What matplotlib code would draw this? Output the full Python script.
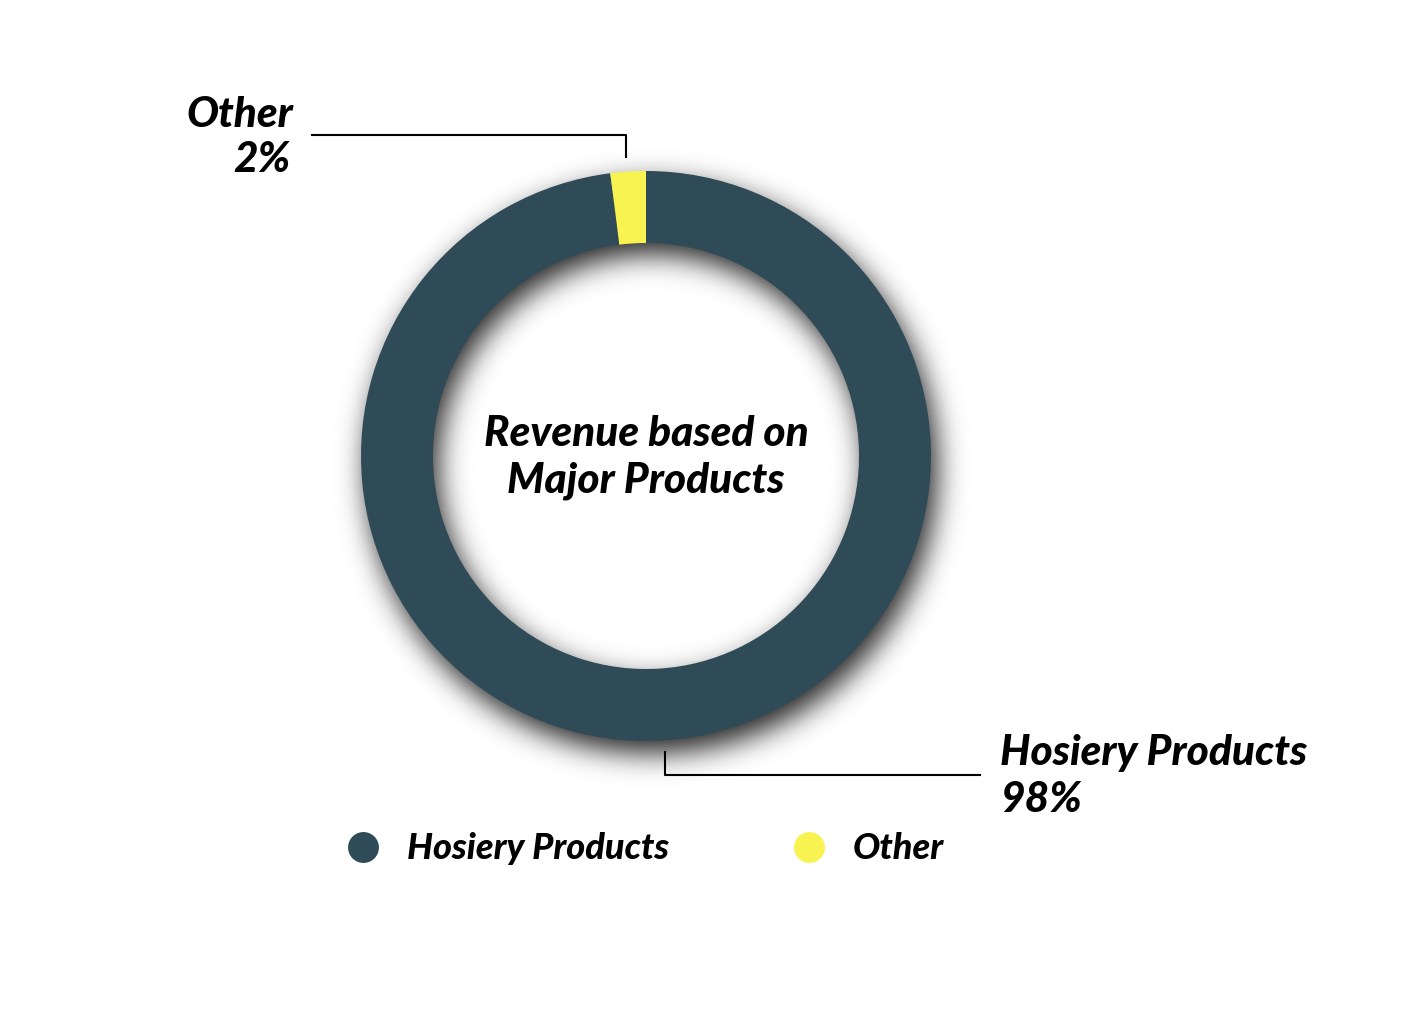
import matplotlib.pyplot as plt
import numpy as np
from matplotlib.lines import Line2D

categories = ["Hosiery Products", "Other"]
shares = [98, 2]
colors = ["#2f4b58", "#f9f352"]
title = ["Revenue based on", "Major Products"]

W, H = 1403, 1009
CX, CY = 646, H - 456
R_OUT, WIDTH = 285, 72
FONT = dict(family=["Lato", "DejaVu Sans"], weight=900, style="italic", color="black")


def ring_shadow(dx, dy, sigma, strength):
    yy, xx = np.mgrid[0:H, 0:W] + 0.5
    d = np.hypot(xx - (CX + dx), yy - (CY - dy))

    def phi(x):
        return 0.5 * (1 + np.tanh(0.7978 * (x + 0.044715 * x ** 3)))

    a = phi((R_OUT - d) / sigma) - phi((R_OUT - WIDTH - d) / sigma)
    img = np.zeros((H, W, 4))
    img[..., 3] = np.clip(a, 0, 1) * strength
    return img


def main() -> None:
    fig = plt.figure(figsize=(W / 100, H / 100), dpi=100)
    ax = fig.add_axes([0, 0, 1, 1])

    ax.imshow(ring_shadow(6, 12, 14, 0.85), extent=(0, W, 0, H), origin="lower", zorder=0)
    ax.pie(shares, colors=colors, startangle=90, counterclock=False, center=(CX, CY),
           radius=R_OUT, wedgeprops=dict(width=WIDTH, linewidth=0), frame=False)
    for w in ax.patches:
        w.set_zorder(2)

    ax.text(CX, H - 446, title[0], ha="center", va="baseline", fontsize=30.5, **FONT)
    ax.text(CX, H - 492, title[1], ha="center", va="baseline", fontsize=30.5, **FONT)

    # leader lines
    lw = 1.5
    ax.add_line(Line2D([312, 626, 626], [H - 135, H - 135, H - 157], color="black", lw=lw, zorder=3))
    ax.add_line(Line2D([665, 665, 980], [H - 752, H - 775, H - 775], color="black", lw=lw, zorder=3))

    ax.text(293, H - 127, categories[1], ha="right", va="baseline", fontsize=30.5, **FONT)
    ax.text(291, H - 172, f"{shares[1]}%", ha="right", va="baseline", fontsize=30.5, **FONT)
    ax.text(1000, H - 765, categories[0], ha="left", va="baseline", fontsize=30.5, **FONT)
    ax.text(1000, H - 812, f"{shares[0]}%", ha="left", va="baseline", fontsize=30.5, **FONT)

    # legend
    for x, name, c in zip([363, 809], categories, colors):
        ax.scatter([x], [H - 847], s=30 ** 2 * 0.55, color=c, linewidths=0, zorder=3)
        ax.text(x + 44, H - 859, name, ha="left", va="baseline", fontsize=26, **FONT)

    ax.set_xlim(0, W)
    ax.set_ylim(0, H)
    ax.set_aspect("equal")
    ax.axis("off")
    fig.savefig("out.png", dpi=100, facecolor="white")


if __name__ == "__main__":
    main()
